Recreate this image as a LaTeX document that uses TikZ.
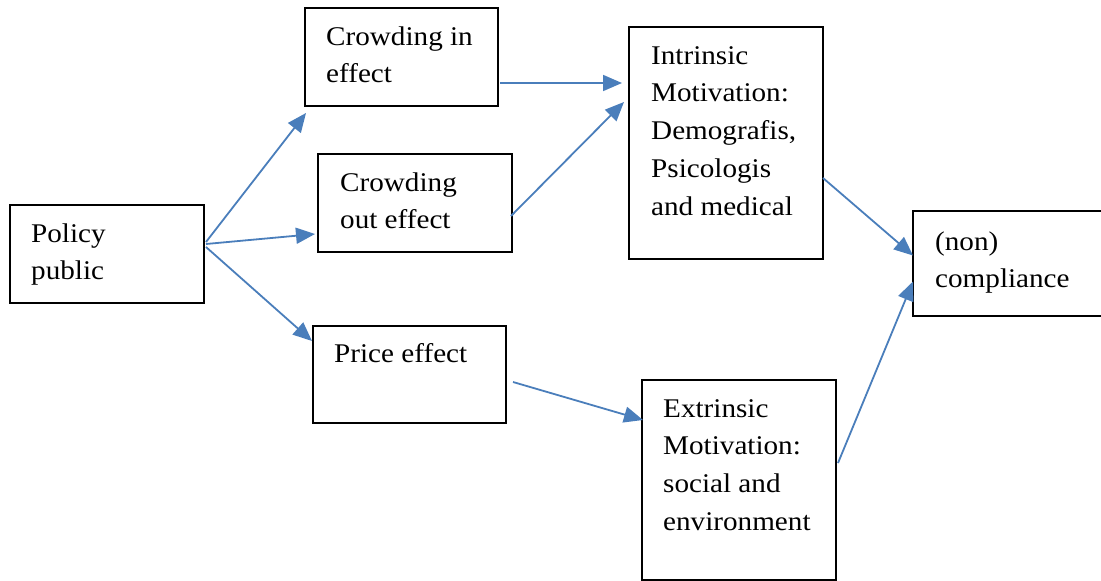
\documentclass[tikz,border=0pt]{standalone}
\usepackage{fontspec}
\setmainfont{Liberation Serif}[FakeStretch=1.08]
\usetikzlibrary{arrows.meta}
\definecolor{arrowblue}{RGB}{74,126,187}
\newcommand{\boxlines}[1]{\vtop{\baselineskip=37.75pt\lineskiplimit=-20pt\relax #1}}
\begin{document}
\begin{tikzpicture}[x=1pt,y=-1pt,
  boxnode/.style={draw=black, line width=2.2pt, anchor=north west, inner sep=0pt, outer sep=0pt},
  txt/.style={anchor=base west, inner sep=0pt, font=\fontsize{27}{37.75}\selectfont},
  conn/.style={draw=arrowblue, line width=1.8pt, -{Triangle[length=19pt,width=16pt]}}]
\useasboundingbox (0,0) rectangle (1101,581);
\clip (0,0) rectangle (1101,581);
% boxes
\node[boxnode, minimum width=194pt, minimum height=98pt] (policy) at (10,205) {};
\node[boxnode, minimum width=193pt, minimum height=98pt] (cin) at (305,8) {};
\node[boxnode, minimum width=194pt, minimum height=98pt] (cout) at (318,154) {};
\node[boxnode, minimum width=193pt, minimum height=97pt] (price) at (313,326) {};
\node[boxnode, minimum width=194pt, minimum height=232pt] (intr) at (629,27) {};
\node[boxnode, minimum width=210pt, minimum height=105pt] (comp) at (913,211) {};
\node[boxnode, minimum width=194pt, minimum height=200pt] (ext) at (642,380) {};
% texts
\node[txt] (policyt) at ([shift={(21,37)}]policy.north west) {\boxlines{\hbox{Policy}\hbox{public}}};
\node[txt] (cint) at ([shift={(21,37)}]cin.north west) {\boxlines{\hbox{Crowding in}\hbox{effect}}};
\node[txt] (coutt) at ([shift={(22,37)}]cout.north west) {\boxlines{\hbox{Crowding}\hbox{out effect}}};
\node[txt] (pricet) at ([shift={(21,36)}]price.north west) {\boxlines{\hbox{Price effect}}};
\node[txt] (intrt) at ([shift={(22,37)}]intr.north west) {\boxlines{\hbox{Intrinsic}\hbox{Motivation:}\hbox{Demografis,}\hbox{Psicologis}\hbox{and medical}}};
\node[txt] (compt) at ([shift={(22,39)}]comp.north west) {\boxlines{\hbox{(non)}\hbox{compliance}}};
\node[txt] (extt) at ([shift={(21,37)}]ext.north west) {\boxlines{\hbox{Extrinsic}\hbox{Motivation:}\hbox{social and}\hbox{environment}}};
% connectors
\draw[conn] ([shift={(2,-12)}]policy.east) -- ([shift={(1,7)}]cin.south west);
\draw[conn] ([shift={(2,-10)}]policy.east) -- ([shift={(-3,31)}]cout.west);
\draw[conn] ([shift={(2,-7)}]policy.east) -- ([shift={(-1,15)}]price.north west);
\draw[conn] ([shift={(2,26)}]cin.east) -- ([shift={(-7,-60)}]intr.west);
\draw[conn] ([shift={(-1,13)}]cout.east) -- ([shift={(-5,-41)}]intr.west);
\draw[conn] ([shift={(0,35)}]intr.east) -- ([shift={(0,-8)}]comp.west);
\draw[conn] ([shift={(7,7.5)}]price.east) -- ([shift={(1,-60)}]ext.west);
\draw[conn] ([shift={(2,-17)}]ext.east) -- ([shift={(0,18)}]comp.west);
\end{tikzpicture}
\end{document}
